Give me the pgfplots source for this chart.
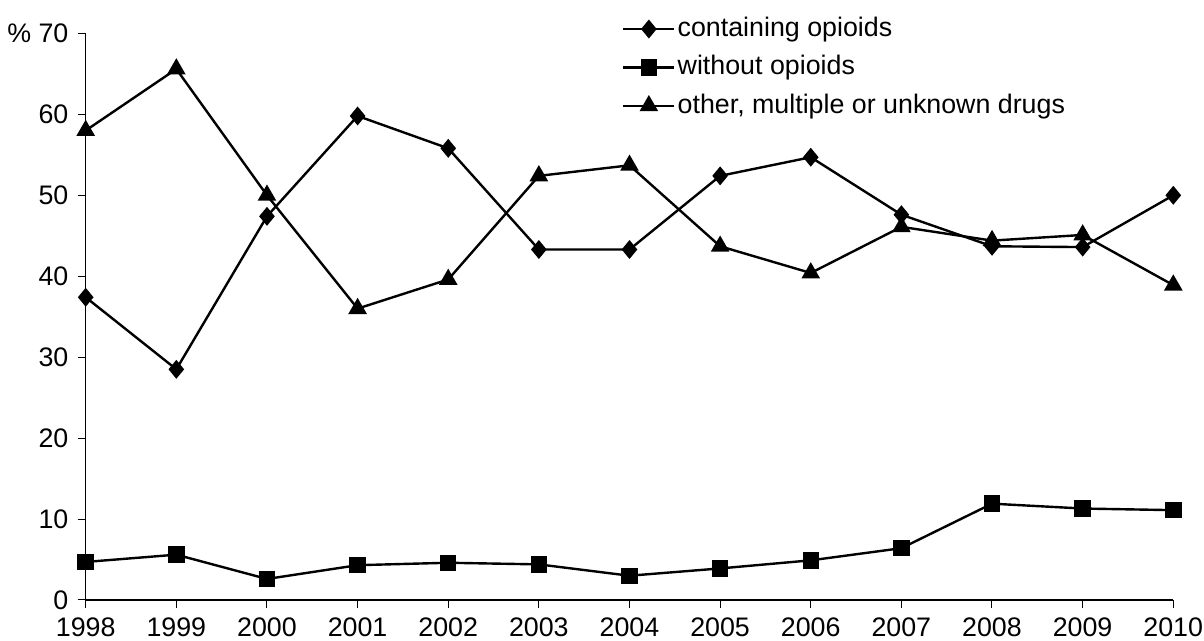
\documentclass[border=0pt]{standalone}
\usepackage{pgfplots}
\pgfplotsset{compat=1.18}
\usepackage{fontspec}
\setmainfont{Liberation Sans}
\pgfplotstableread{
year opi noopi other
1998 37.4 4.7 58.0
1999 28.5 5.6 65.6
2000 47.4 2.6 50.0
2001 59.8 4.3 36.0
2002 55.8 4.6 39.6
2003 43.3 4.4 52.4
2004 43.3 3.0 53.7
2005 52.4 3.9 43.7
2006 54.7 4.9 40.4
2007 47.6 6.4 46.1
2008 43.7 11.9 44.4
2009 43.6 11.3 45.1
2010 50.0 11.1 38.9
}\datatable
\begin{document}
\fontsize{13.4}{16}\selectfont
\begin{tikzpicture}
\begin{axis}[
  at={(0,0)}, anchor=south west,
  scale only axis, width=543.8pt, height=283.3pt,
  xmin=1998, xmax=2010, ymin=0, ymax=70,
  axis x line*=bottom, axis y line*=left,
  xtick={1998,...,2010}, ytick={0,10,...,70},
  yticklabels={0,10,20,30,40,50,60,{\% 70}},
  xticklabel style={/pgf/number format/1000 sep={}},
  /pgf/number format/assume math mode=true,
  tick align=outside, major tick length=4pt,
  tick style={black, line width=0.5pt},
  axis line style={line width=0.6pt},
  clip=false,
  legend style={at={(0.4928,1.0335)}, anchor=north west, draw=none, fill=none,
    inner sep=0pt, row sep=5pt,
    nodes={inner sep=1pt, text height=9.7pt, text depth=2.5pt}},
  legend cell align=left,
  legend image code/.code={\draw[mark repeat=2,mark phase=2] plot coordinates {(0cm,0cm) (0.45cm,0cm) (0.9cm,0cm)};},
]
\addplot[black, line width=1.2pt, mark=diamond*, mark size=3.8pt, mark options={solid, fill=black, xscale=1.1}] table[x=year, y=opi] {\datatable};
\addlegendentry{containing opioids}
\addplot[black, line width=1.2pt, mark=square*, mark size=3.5pt, mark options={solid, fill=black}] table[x=year, y=noopi] {\datatable};
\addlegendentry{without opioids}
\addplot[black, line width=1.2pt, mark=triangle*, mark size=4.2pt, mark options={solid, fill=black}] table[x=year, y=other] {\datatable};
\addlegendentry{other, multiple or unknown drugs}
\end{axis}
\pgfresetboundingbox
\path[use as bounding box] (-42.85pt,-20.5pt) rectangle (559.15pt,300pt);
\end{tikzpicture}
\end{document}
